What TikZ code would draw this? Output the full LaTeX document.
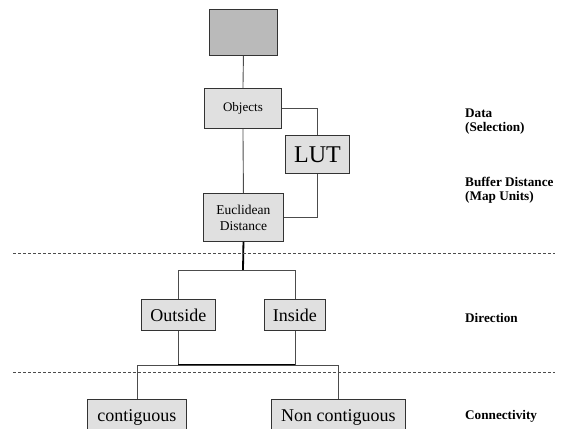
\documentclass[tikz,border=0pt]{standalone}
\usepackage{fontspec}
\setmainfont{Liberation Serif}
\begin{document}
\begin{tikzpicture}[x=1pt,y=-1pt,
  box/.style={draw=black!80,fill=black!12,line width=0.9pt,inner sep=0pt,anchor=north west},
  topbox/.style={box,fill=black!27},
  conn/.style={draw=black!70,line width=0.9pt},
  thick conn/.style={draw=black,line width=1.8pt},
  sep/.style={draw=black!70,line width=0.8pt,dash pattern=on 3pt off 2pt},
  lab/.style={font=\fontsize{13.2}{14}\selectfont\bfseries,anchor=base west,align=left,inner sep=0pt}]
\useasboundingbox (0,0) rectangle (567,428);
% boxes
\node[topbox,minimum width=68pt,minimum height=46pt] (top) at (209,9) {};
\node[box,minimum width=77pt,minimum height=40pt,font=\fontsize{13}{15}\selectfont] (obj) at (204,88) {Objects};
\node[box,minimum width=64pt,minimum height=38pt,font=\fontsize{24}{26}\selectfont] (lut) at (285,135) {LUT};
\node[box,minimum width=80pt,minimum height=48pt,align=center,font=\fontsize{13.5}{16}\selectfont] (euc) at (203,193) {Euclidean\\Distance};
\node[box,minimum width=74pt,minimum height=31pt,font=\fontsize{18}{20}\selectfont] (out) at (141,299) {Outside};
\node[box,minimum width=61pt,minimum height=31pt,font=\fontsize{18}{20}\selectfont] (ins) at (264,299) {Inside};
\node[box,minimum width=99pt,minimum height=37pt,font=\fontsize{18}{20}\selectfont] (con) at (87,399) {contiguous};
\node[box,minimum width=134pt,minimum height=37pt,font=\fontsize{18}{20}\selectfont] (ncon) at (271,399) {Non contiguous};
% coordinates
\coordinate (split) at (243,270);
\coordinate (join) at (236.5,365);
% connectors
\draw[conn] (top.south) -- (obj.north);
\draw[conn] (obj.south) -- (euc.north);
\draw[conn] (obj.east) -| (lut.north);
\draw[conn] (lut.south) |- (euc.east);
\draw[thick conn] (euc.south) -- (split);
\draw[conn] (split) -| (out.north);
\draw[conn] (split) -| (ins.north);
\draw[conn] (out.south) |- (join);
\draw[conn] (ins.south) |- (join);
\draw[thick conn] (out.south |- join) -- (ins.south |- join);
\draw[conn] (join) -| (con.north);
\draw[conn] (join) -| (ncon.north);
% separators
\coordinate (s1a) at (13,253); \coordinate (s1b) at (555,253);
\coordinate (s2a) at (13,372); \coordinate (s2b) at (555,372);
\draw[sep] (s1a) -- (s1b);
\draw[sep] (s2a) -- (s2b);
% labels
\node[lab] (l1) at (465,131) {Data\\(Selection)};
\node[lab] (l2) at (465,200) {Buffer Distance\\(Map Units)};
\node[lab] (l3) at (465,322) {Direction};
\node[lab] (l4) at (465,419) {Connectivity};
\end{tikzpicture}
\end{document}
